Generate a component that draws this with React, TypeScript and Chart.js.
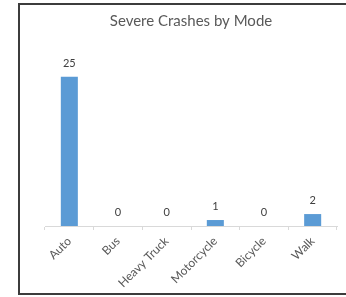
import React, { useEffect, useRef } from "react";
import { Chart, registerables } from "chart.js";

Chart.register(...registerables);

const categories = ["Auto", "Bus", "Heavy Truck", "Motorcycle", "Bicycle", "Walk"];
const crashes = [25, 0, 0, 1, 0, 2];
const titleText = "Severe Crashes by Mode";

const FONT = "Lato, 'Liberation Sans', sans-serif";

const dataLabels = {
  id: "dataLabels",
  afterDatasetsDraw(chart: any) {
    const ctx = chart.ctx;
    const meta = chart.getDatasetMeta(0);
    ctx.save();
    ctx.fillStyle = "#404040";
    ctx.font = `11px ${FONT}`;
    ctx.textAlign = "center";
    ctx.textBaseline = "bottom";
    meta.data.forEach((el: any, i: number) => {
      ctx.fillText(String(chart.data.datasets[0].data[i]), el.x, el.y - 8);
    });
    ctx.restore();
  },
};

export default function App() {
  const ref = useRef<HTMLCanvasElement | null>(null);
  useEffect(() => {
    if (!ref.current) return;
    const chart = new Chart(ref.current, {
      type: "bar",
      data: {
        labels: categories,
        datasets: [
          {
            data: crashes,
            backgroundColor: "#5B9BD5",
            categoryPercentage: 1,
            barPercentage: 0.35,
          },
        ],
      },
      options: {
        animation: false,
        responsive: false,
        layout: { padding: { left: 25, right: 31, top: 0, bottom: 0 } },
        plugins: {
          legend: { display: false },
          tooltip: { enabled: false },
          title: {
            display: true,
            text: titleText,
            color: "#595959",
            font: { family: FONT, size: 15, weight: "normal" },
            padding: { top: 7, bottom: 17 },
          },
        },
        scales: {
          y: { display: false, min: 0, max: 30 },
          x: {
            afterFit: (s: any) => {
              s.height = 67;
            },
            grid: {
              display: true,
              offset: true,
              drawOnChartArea: false,
              tickLength: 4,
              color: "#d9d9d9",
            },
            border: { color: "#d9d9d9" },
            ticks: {
              autoSkip: false,
              minRotation: 45,
              maxRotation: 45,
              color: "#595959",
              font: { family: FONT, size: 12 },
              padding: 4,
            },
          },
        },
      },
      plugins: [dataLabels],
    });
    return () => chart.destroy();
  }, []);

  return (
    <div
      style={{
        position: "fixed",
        left: 0,
        top: 0,
        width: 346,
        height: 297,
        overflow: "hidden",
        background: "#fff",
      }}
    >
      <div
        style={{
          position: "absolute",
          left: 18,
          top: 3,
          width: 420,
          height: 288,
          borderTop: "2px solid #3c3c3c",
          borderLeft: "2px solid #3c3c3c",
          borderBottom: "2px solid #3c3c3c",
          background: "#fff",
        }}
      >
        <canvas ref={ref} width={348} height={288} style={{ display: "block" }} />
      </div>
    </div>
  );
}
